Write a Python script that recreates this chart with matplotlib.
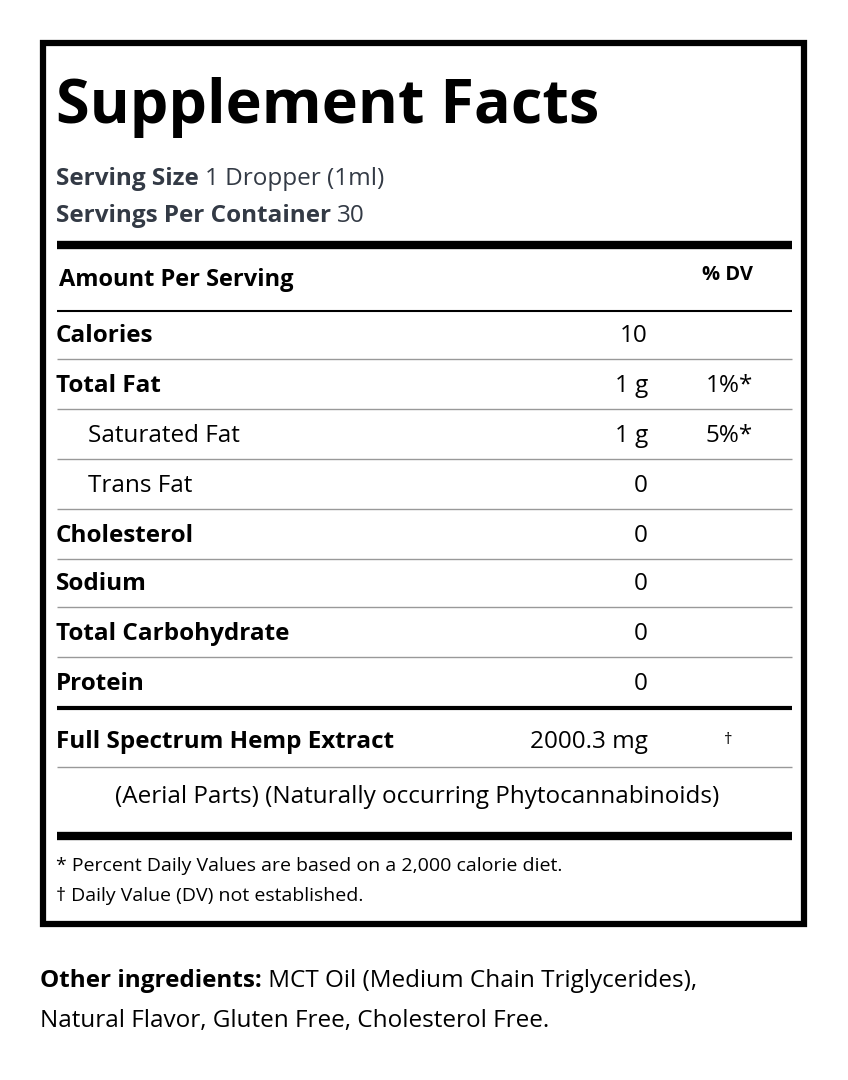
import matplotlib
matplotlib.use("Agg")
import matplotlib.pyplot as plt

title = "Supplement Facts"
serving = [("Serving Size", "1 Dropper (1ml)"), ("Servings Per Container", "30")]
nutrients = ["Calories", "Total Fat", "Saturated Fat", "Trans Fat", "Cholesterol", "Sodium", "Total Carbohydrate", "Protein"]
bold = [True, True, False, False, True, True, True, True]
indent = [False, False, True, True, False, False, False, False]
amounts = ["10", "1 g", "1 g", "0", "0", "0", "0", "0"]
dvs = ["", "1%*", "5%*", "", "", "", "", ""]
extract_name = "Full Spectrum Hemp Extract"
extract_amt = "2000.3 mg"
extract_note = "(Aerial Parts) (Naturally occurring Phytocannabinoids)"
footnotes = ["* Percent Daily Values are based on a 2,000 calorie diet.", "† Daily Value (DV) not established."]
other_lines = [("Other ingredients:", " MCT Oil (Medium Chain Triglycerides),"), ("", "Natural Flavor, Gluten Free, Cholesterol Free.")]

FONT = ["Open Sans", "DejaVu Sans"]
plt.rcParams['font.family'] = FONT
fig = plt.figure(figsize=(8.48, 10.8), dpi=100)
ax = fig.add_axes([0, 0, 1, 1])
ax.set_xlim(0, 848); ax.set_ylim(1080, 0); ax.axis('off')

FS = 17.5
ax.add_patch(plt.Rectangle((43, 43), 761, 881, fill=False, lw=4.5, ec='black'))
ax.text(56, 108, title, fontsize=44, weight='bold', va='center', ha='left')
c = '#333a45'
for i, (k, v) in enumerate(serving):
    y = 179 + 37 * i
    t = ax.text(56, y, k, fontsize=FS, weight='bold', color=c, va='center')
    fig.canvas.draw()
    bb = t.get_window_extent()
    ax.text(56 + bb.width + 6, y, v, fontsize=FS, color=c, va='center')

def hline(y, lw, col='black'):
    ax.plot([57, 792], [y, y], color=col, lw=lw, solid_capstyle='butt')

hline(245, 6)
ax.text(59, 280, "Amount Per Serving", fontsize=17, weight='bold', va='center')
ax.text(728, 275, "% DV", fontsize=14.5, weight='bold', va='center', ha='center')
hline(311, 1.5)
ys = [336, 386, 436, 486, 536, 584, 634, 684]
for i, n in enumerate(nutrients):
    y = ys[i]
    ax.text(88 if indent[i] else 56, y, n, fontsize=FS, weight='bold' if bold[i] else 'normal', va='center')
    ax.text(648, y, amounts[i], fontsize=FS, va='center', ha='right')
    if dvs[i]:
        ax.text(753, y, dvs[i], fontsize=FS, va='center', ha='right')
    if i < len(nutrients) - 1:
        hline(y + 23, 1, '#999999')
hline(708, 3)
ax.text(56, 742, extract_name, fontsize=FS, weight='bold', va='center')
ax.text(648, 742, extract_amt, fontsize=FS, va='center', ha='right')
ax.text(728, 740, "†", fontsize=12, va='center', ha='center')
hline(767, 1, '#999999')
ax.text(417, 797, extract_note, fontsize=FS, va='center', ha='center')
hline(836, 6)
for i, f in enumerate(footnotes):
    ax.text(56, 866 + 30 * i, f, fontsize=14, va='center')
for i, (b, r) in enumerate(other_lines):
    y = 981 + 40 * i
    x = 40
    if b:
        t = ax.text(x, y, b, fontsize=FS, weight='bold', va='center')
        fig.canvas.draw()
        x += t.get_window_extent().width
    ax.text(x, y, r, fontsize=FS, va='center')

fig.savefig("out.png", dpi=100)
